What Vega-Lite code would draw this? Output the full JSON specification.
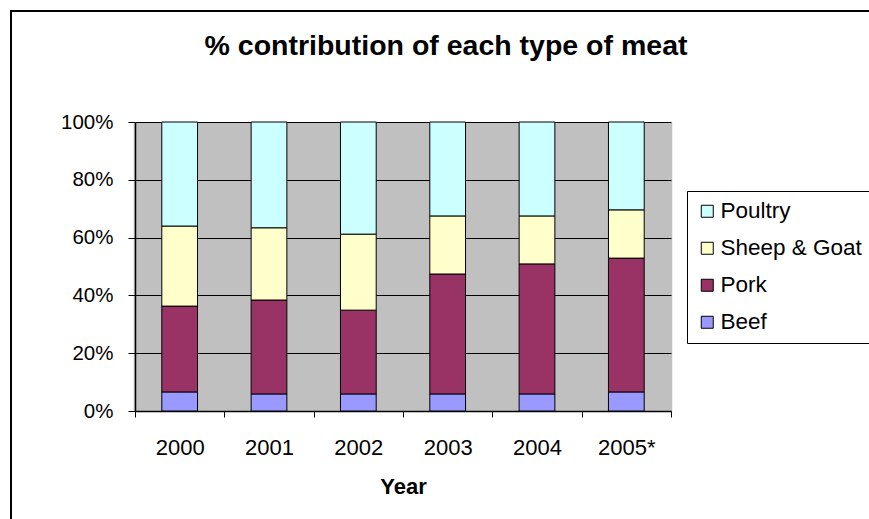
{
  "$schema": "https://vega.github.io/schema/vega-lite/v6.json",
  "autosize": "none",
  "width": 870,
  "height": 520,
  "padding": {"left": 11, "top": 11, "right": 0, "bottom": 0},
  "background": "white",
  "config": {
    "font": "Liberation Sans",
    "view": {"stroke": "black", "strokeWidth": 2, "fill": "white"}
  },
  "title": {
    "text": "% contribution of each type of meat",
    "font": "Liberation Sans",
    "fontSize": 28.5,
    "fontWeight": "bold",
    "color": "black",
    "anchor": "middle",
    "frame": "group",
    "baseline": "alphabetic",
    "offset": -44,
    "dy": 28
  },
  "data": {
    "values": [
      {"year": "2000", "meat": "Beef", "value": 6.6, "o": 1},
      {"year": "2000", "meat": "Pork", "value": 29.7, "o": 2},
      {"year": "2000", "meat": "Sheep & Goat", "value": 27.7, "o": 3},
      {"year": "2000", "meat": "Poultry", "value": 36.0, "o": 4},
      {"year": "2001", "meat": "Beef", "value": 5.9, "o": 1},
      {"year": "2001", "meat": "Pork", "value": 32.5, "o": 2},
      {"year": "2001", "meat": "Sheep & Goat", "value": 25.0, "o": 3},
      {"year": "2001", "meat": "Poultry", "value": 36.6, "o": 4},
      {"year": "2002", "meat": "Beef", "value": 5.9, "o": 1},
      {"year": "2002", "meat": "Pork", "value": 29.0, "o": 2},
      {"year": "2002", "meat": "Sheep & Goat", "value": 26.3, "o": 3},
      {"year": "2002", "meat": "Poultry", "value": 38.8, "o": 4},
      {"year": "2003", "meat": "Beef", "value": 5.9, "o": 1},
      {"year": "2003", "meat": "Pork", "value": 41.5, "o": 2},
      {"year": "2003", "meat": "Sheep & Goat", "value": 20.1, "o": 3},
      {"year": "2003", "meat": "Poultry", "value": 32.5, "o": 4},
      {"year": "2004", "meat": "Beef", "value": 5.9, "o": 1},
      {"year": "2004", "meat": "Pork", "value": 45.0, "o": 2},
      {"year": "2004", "meat": "Sheep & Goat", "value": 16.6, "o": 3},
      {"year": "2004", "meat": "Poultry", "value": 32.5, "o": 4},
      {"year": "2005*", "meat": "Beef", "value": 6.6, "o": 1},
      {"year": "2005*", "meat": "Pork", "value": 46.3, "o": 2},
      {"year": "2005*", "meat": "Sheep & Goat", "value": 16.7, "o": 3},
      {"year": "2005*", "meat": "Poultry", "value": 30.4, "o": 4}
    ]
  },
  "layer": [
    {
      "mark": {"type": "bar", "stroke": "black", "strokeWidth": 1, "width": {"band": 0.4}},
      "encoding": {
        "x": {
          "field": "year",
          "type": "ordinal",
          "scale": {"range": [124, 660], "paddingInner": 0, "paddingOuter": 0},
          "axis": {
            "orient": "bottom",
            "offset": -120,
            "title": "Year",
            "titleFontSize": 22,
            "titleFontWeight": "bold",
            "titleColor": "black",
            "titlePadding": 18,
            "labelFontSize": 22,
            "labelColor": "black",
            "labelAngle": 0,
            "labelPadding": 20,
            "tickBand": "extent",
            "tickSize": 6,
            "tickColor": "black",
            "tickWidth": 1,
            "domainColor": "black",
            "domainWidth": 1.5,
            "grid": false
          }
        },
        "y": {
          "field": "value",
          "type": "quantitative",
          "stack": "normalize",
          "scale": {"domain": [0, 1], "range": [400, 111], "nice": false},
          "axis": {
            "orient": "left",
            "offset": -124,
            "title": null,
            "values": [0, 0.2, 0.4, 0.6, 0.8, 1],
            "format": ".0%",
            "labelFontSize": 20.5,
            "labelColor": "black",
            "labelPadding": 15,
            "tickSize": 7,
            "tickColor": "black",
            "tickWidth": 1,
            "domainColor": "black",
            "domainWidth": 1.5,
            "grid": true,
            "gridColor": "black",
            "gridOpacity": 1,
            "gridWidth": 1
          }
        },
        "color": {
          "field": "meat",
          "type": "nominal",
          "scale": {
            "domain": ["Poultry", "Sheep & Goat", "Pork", "Beef"],
            "range": ["#CCFFFF", "#FFFFCC", "#993366", "#9999FF"]
          },
          "legend": {
            "orient": "none",
            "legendX": 676,
            "legendY": 180,
            "title": null,
            "strokeColor": "black",
            "fillColor": "white",
            "padding": 9,
            "rowPadding": 14,
            "labelFontSize": 22.5,
            "labelColor": "black",
            "labelOffset": 2,
            "labelLimit": 300,
            "symbolType": "square",
            "symbolSize": 144,
            "symbolStrokeColor": "black",
            "symbolStrokeWidth": 1,
            "symbolOpacity": 1
          }
        },
        "order": {"field": "o", "type": "quantitative"}
      }
    },
    {
      "mark": {"type": "bar", "opacity": 0},
      "encoding": {
        "x": {
          "field": "year",
          "type": "ordinal",
          "axis": {
            "orient": "top",
            "title": null,
            "labels": false,
            "ticks": false,
            "domain": false,
            "grid": true,
            "gridColor": "#C0C0C0",
            "gridOpacity": 1,
            "gridWidth": 91.5
          }
        },
        "y": {
          "field": "value",
          "type": "quantitative",
          "stack": "normalize"
        }
      }
    }
  ],
  "resolve": {"axis": {"x": "independent"}}
}
